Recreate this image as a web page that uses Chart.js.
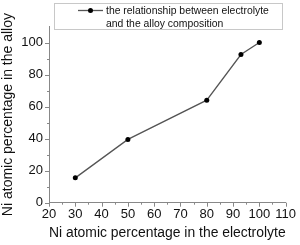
<!DOCTYPE html>
<html>
<head>
<meta charset="utf-8">
<script src="https://cdn.jsdelivr.net/npm/chart.js@4/dist/chart.umd.min.js"></script>
<style>
    body { margin: 0; background: #fff; }
    #wrap { width: 300px; height: 245px; }
</style>
</head>
<body>
<div id="wrap"><canvas id="alloyChart" width="300" height="245"></canvas></div>
<script>
// Data
const electrolyteNi = [30, 50, 80, 93, 100];
const alloyNi = [15.5, 39.5, 64, 92.5, 100];
const legendLines = ["the relationship between electrolyte", "and the alloy composition"];
const xTitle = "Ni atomic percentage in the electrolyte";
const yTitle = "Ni atomic percentage in the alloy";

const fontFamily = '"Liberation Sans", Arial, sans-serif';

// Outward major/minor tick marks, like the Origin plot
const tickMarks = {
    id: "tickMarks",
    afterDraw(chart) {
        const ctx = chart.ctx;
        const xs = chart.scales.x;
        const ys = chart.scales.y;
        ctx.save();
        ctx.strokeStyle = "#888";
        ctx.lineWidth = 1;
        ctx.beginPath();
        for (let v = 20; v <= 110; v += 5) {
            const px = Math.round(xs.getPixelForValue(v)) + 0.5;
            const len = v % 10 === 0 ? 4 : 2;
            ctx.moveTo(px, xs.top);
            ctx.lineTo(px, xs.top + len);
        }
        for (let v = 0; v <= 100; v += 10) {
            const py = Math.round(ys.getPixelForValue(v)) + 0.5;
            const len = v % 20 === 0 ? 4 : 2;
            ctx.moveTo(ys.right, py);
            ctx.lineTo(ys.right - len, py);
        }
        ctx.stroke();
        ctx.restore();
    }
};

// Boxed two-line legend at the top
const boxLegend = {
    id: "boxLegend",
    afterDraw(chart) {
        const ctx = chart.ctx;
        const ds = chart.data.datasets[0];
        ctx.save();
        ctx.fillStyle = "#fff";
        ctx.fillRect(54.5, 3.5, 228, 26);
        ctx.strokeStyle = "#c8c8c8";
        ctx.lineWidth = 1;
        ctx.strokeRect(54.5, 3.5, 228, 26);

        ctx.strokeStyle = ds.borderColor;
        ctx.lineWidth = ds.borderWidth;
        ctx.beginPath();
        ctx.moveTo(78, 10.5);
        ctx.lineTo(103, 10.5);
        ctx.stroke();
        ctx.fillStyle = ds.pointBackgroundColor;
        ctx.beginPath();
        ctx.arc(90.5, 10.5, ds.pointRadius, 0, Math.PI * 2);
        ctx.fill();

        ctx.fillStyle = "#111";
        ctx.font = "10.4px " + fontFamily;
        ctx.textBaseline = "middle";
        ctx.fillText(legendLines[0], 106, 11);
        ctx.fillText(legendLines[1], 106, 24);
        ctx.restore();
    }
};

const ctx = document.getElementById("alloyChart").getContext("2d");
new Chart(ctx, {
    type: "scatter",
    data: {
        datasets: [
            {
                label: legendLines.join(" "),
                data: electrolyteNi.map((x, i) => ({ x: x, y: alloyNi[i] })),
                showLine: true,
                borderColor: "#555",
                borderWidth: 1.3,
                pointBackgroundColor: "#000",
                pointBorderWidth: 0,
                pointRadius: 2.5
            }
        ]
    },
    options: {
        responsive: false,
        animation: false,
        layout: { padding: { top: 26.5, right: 14, left: 0, bottom: 0 } },
        plugins: {
            legend: { display: false },
            tooltip: { enabled: false }
        },
        scales: {
            x: {
                type: "linear",
                min: 20,
                max: 110,
                grid: { display: false, drawTicks: false },
                border: { display: true, color: "#888", width: 1 },
                ticks: {
                    stepSize: 10,
                    padding: 4,
                    color: "#111",
                    font: { family: fontFamily, size: 13 },
                    maxRotation: 0
                },
                title: {
                    display: true,
                    text: xTitle,
                    color: "#111",
                    font: { family: fontFamily, size: 14 },
                    padding: { top: 0, bottom: 3 }
                },
                afterFit(scale) {
                    scale.height = 42.3;
                }
            },
            y: {
                type: "linear",
                min: 0,
                max: 110,
                grid: { display: false, drawTicks: false },
                border: { display: true, color: "#888", width: 1 },
                ticks: {
                    stepSize: 20,
                    padding: 6,
                    color: "#111",
                    font: { family: fontFamily, size: 13 }
                },
                afterBuildTicks(scale) {
                    scale.ticks = scale.ticks.filter((t) => t.value <= 100);
                },
                title: {
                    display: true,
                    text: yTitle,
                    color: "#111",
                    font: { family: fontFamily, size: 14 },
                    padding: { top: 0, bottom: 0 }
                },
                afterFit(scale) {
                    scale.width = 49;
                }
            }
        }
    },
    plugins: [tickMarks, boxLegend]
});
</script>
</body>
</html>
